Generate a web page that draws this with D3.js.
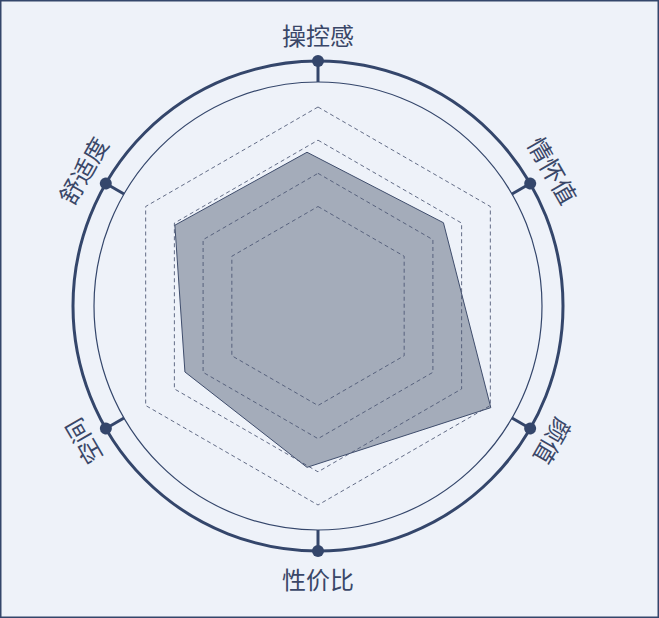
<!DOCTYPE html>
<html>
<head>
    <meta charset="utf-8">
    <title>Radar</title>
    <script src="https://d3js.org/d3.v7.min.js"></script>
    <style>
        html, body {
            margin: 0;
            padding: 0;
            background-color: #eef2f9;
        }
        svg {
            display: block;
        }
    </style>
</head>
<body>
    <script>
        // axis names, clockwise from the top
        const indicators = ["操控感", "情怀值", "颜值", "性价比", "空间", "舒适度"];
        // series values
        const scores = [90, 95, 128, 100, 85, 92];
        // split line levels
        const levels = [60, 80, 100, 120];
        const maxValue = 120;

        const width = 659, height = 618;
        const cx = 318, cy = 306;
        const gridRadius = 199;
        const innerRing = 224, outerRing = 245, labelRadius = 272;
        // the filled area sits a little off the grid centre in the original
        const seriesCx = cx - 11, seriesCy = cy - 4.5;
        const navy = "#34466b";

        const svg = d3.select("body").append("svg")
            .attr("width", width)
            .attr("height", height);

        // frame
        svg.append("rect")
            .attr("x", 0.75).attr("y", 0.75)
            .attr("width", width - 1.5).attr("height", height - 1.5)
            .attr("fill", "#eef2f9")
            .attr("stroke", navy)
            .attr("stroke-width", 1.5);

        const angle = d3.scalePoint()
            .domain(indicators)
            .range([0, 2 * Math.PI * (indicators.length - 1) / indicators.length]);
        const r = d3.scaleLinear().domain([0, maxValue]).range([0, gridRadius]);

        const radial = d3.lineRadial()
            .angle((d, i) => angle(indicators[i]))
            .curve(d3.curveLinearClosed);

        // data area (drawn first, split lines go over it)
        svg.append("path")
            .attr("transform", "translate(" + seriesCx + "," + seriesCy + ")")
            .attr("d", radial.radius(d => r(d))(scores))
            .attr("fill", "#a4acba")
            .attr("stroke", "#3f4d6c")
            .attr("stroke-width", 1);

        // dashed hexagons
        const grid = svg.append("g")
            .attr("transform", "translate(" + cx + "," + cy + ")");
        grid.selectAll(".level")
            .data(levels)
            .enter()
            .append("path")
            .attr("class", "level")
            .attr("d", lv => radial.radius(() => r(lv))(indicators))
            .attr("fill", "none")
            .attr("stroke", "#4a5572")
            .attr("stroke-opacity", 0.85)
            .attr("stroke-width", 1)
            .attr("stroke-dasharray", "4,3");

        // rings
        grid.append("circle")
            .attr("r", innerRing)
            .attr("fill", "none")
            .attr("stroke", navy)
            .attr("stroke-width", 1.2);
        grid.append("circle")
            .attr("r", outerRing)
            .attr("fill", "none")
            .attr("stroke", navy)
            .attr("stroke-width", 3);

        // ticks + dots + labels
        const marks = grid.selectAll(".mark")
            .data(indicators)
            .enter()
            .append("g")
            .attr("class", "mark")
            .attr("transform", d => "rotate(" + (angle(d) * 180 / Math.PI) + ")");

        marks.append("line")
            .attr("x1", 0).attr("x2", 0)
            .attr("y1", -innerRing).attr("y2", -outerRing)
            .attr("stroke", navy)
            .attr("stroke-width", 3);

        marks.append("circle")
            .attr("cy", -outerRing)
            .attr("r", 6)
            .attr("fill", navy);

        marks.append("text")
            .attr("transform", d => {
                const deg = angle(d) * 180 / Math.PI;
                // bottom label is kept upright
                return Math.abs(deg - 180) < 1 ? "translate(0," + (-labelRadius) + ") rotate(180)" : "translate(0," + (-labelRadius) + ")";
            })
            .attr("text-anchor", "middle")
            .attr("dominant-baseline", "central")
            .style("font-family", "'Noto Sans CJK SC', 'Noto Sans', sans-serif")
            .style("font-size", "24px")
            .style("fill", "#3a4768")
            .text(d => d);
    </script>
</body>
</html>
